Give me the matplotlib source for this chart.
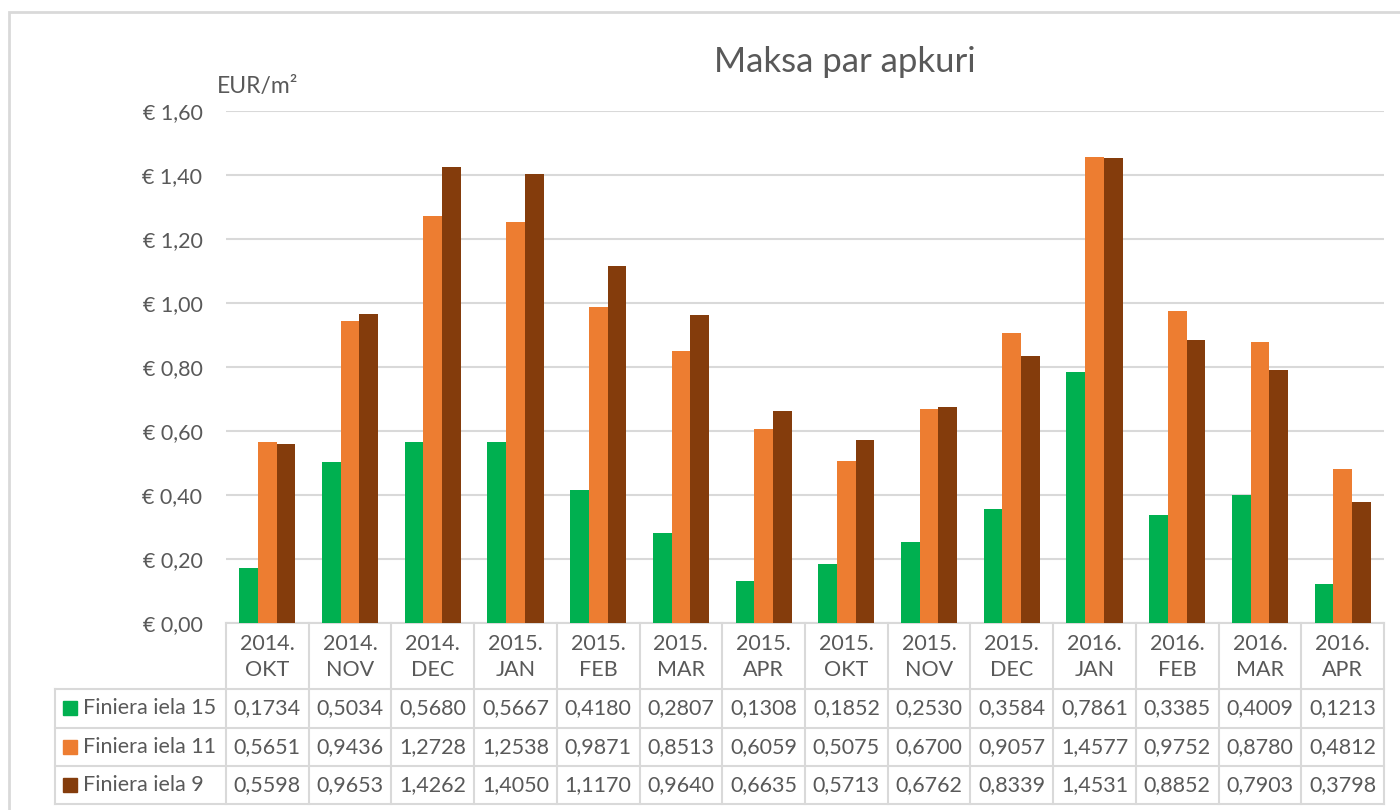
import matplotlib
matplotlib.use("Agg")
import matplotlib.pyplot as plt
import matplotlib.transforms as mtransforms
from matplotlib.patches import Rectangle
import numpy as np

# dati
categories = ["2014.\nOKT", "2014.\nNOV", "2014.\nDEC", "2015.\nJAN", "2015.\nFEB",
              "2015.\nMAR", "2015.\nAPR", "2015.\nOKT", "2015.\nNOV", "2015.\nDEC",
              "2016.\nJAN", "2016.\nFEB", "2016.\nMAR", "2016.\nAPR"]
series_names = ["Finiera iela 15", "Finiera iela 11", "Finiera iela 9"]
iela_15 = [0.1734, 0.5034, 0.5680, 0.5667, 0.4180, 0.2807, 0.1308,
           0.1852, 0.2530, 0.3584, 0.7861, 0.3385, 0.4009, 0.1213]
iela_11 = [0.5651, 0.9436, 1.2728, 1.2538, 0.9871, 0.8513, 0.6059,
           0.5075, 0.6700, 0.9057, 1.4577, 0.9752, 0.8780, 0.4812]
iela_9 = [0.5598, 0.9653, 1.4262, 1.4050, 1.1170, 0.9640, 0.6635,
          0.5713, 0.6762, 0.8339, 1.4531, 0.8852, 0.7903, 0.3798]
colors = ["#00B050", "#ED7D31", "#843C0C"]
yticks = [0.0, 0.2, 0.4, 0.6, 0.8, 1.0, 1.2, 1.4, 1.6]

plt.rcParams['font.family'] = ['Lato', 'DejaVu Sans']
TXT = "#595959"
GRID = "#D9D9D9"
FS = 15.5

W, H = 1400, 810
fig = plt.figure(figsize=(W / 100, H / 100), dpi=100)


def fx(px):
    return px / W


def fy(py):
    # pikseļi no augšas -> figūras koordinātas
    return 1 - py / H


# ārējais rāmis
fig.add_artist(Rectangle((fx(8.5), fy(830)), fx(1420), fy(12.5) - fy(830),
                         transform=fig.transFigure, fill=False,
                         edgecolor=GRID, linewidth=2))

ax_left, ax_right, ax_top, ax_bottom = 226, 1384, 111.3, 623.3
ax = fig.add_axes([fx(ax_left), fy(ax_bottom), fx(ax_right - ax_left),
                   fy(ax_top) - fy(ax_bottom)])

x = np.arange(len(categories))
bw = 0.226
for i, (vals, c) in enumerate(zip([iela_15, iela_11, iela_9], colors)):
    ax.bar(x + (i - 1) * bw, vals, width=bw, color=c, zorder=3)

ax.set_xlim(-0.5, len(categories) - 0.5)
ax.set_ylim(0, 1.6)
ax.set_yticks(yticks)
ax.set_yticklabels(["€ " + f"{v:.2f}".replace(".", ",") for v in yticks])
ax.tick_params(axis="y", length=0, pad=17, labelsize=FS, labelcolor=TXT)
ax.set_xticks([])
ax.grid(axis="y", color=GRID, linewidth=1.5, zorder=0)
for s in ["top", "right", "left"]:
    ax.spines[s].set_visible(False)
ax.spines["bottom"].set_color(GRID)
ax.spines["bottom"].set_linewidth(1.5)

fig.text(fx(845), fy(62), "Maksa par apkuri", ha="center", va="center",
         fontsize=25, color=TXT)
fig.text(fx(217), fy(87), "EUR/m²", ha="left", va="center",
         fontsize=16.5, color=TXT)

# datu tabula
tr = mtransforms.blended_transform_factory(ax.transData, fig.transFigure)
row_lines = [623.3, 688.5, 727.5, 766, 804]
tab_left = 55.3
lw = 1.5

# vertikālās līnijas starp kategorijām
for b in np.arange(-0.5, len(categories)):
    ax.plot([b, b], [fy(row_lines[0]), fy(row_lines[-1])], transform=tr,
            color=GRID, linewidth=lw, clip_on=False)
# horizontālās līnijas
for py in row_lines[1:]:
    fig.add_artist(plt.Line2D([fx(tab_left), fx(ax_right)], [fy(py), fy(py)],
                              transform=fig.transFigure, color=GRID, linewidth=lw))
fig.add_artist(plt.Line2D([fx(tab_left), fx(tab_left)],
                          [fy(row_lines[1]), fy(row_lines[-1])],
                          transform=fig.transFigure, color=GRID, linewidth=lw))

# galvene
for xi, lab in zip(x, categories):
    ax.text(xi, fy((row_lines[0] + row_lines[1]) / 2 + 1.5), lab, transform=tr,
            ha="center", va="center", fontsize=FS, color=TXT,
            linespacing=1.38)

# rindas
for r, (name, vals, c) in enumerate(zip(series_names, [iela_15, iela_11, iela_9], colors)):
    yc = (row_lines[r + 1] + row_lines[r + 2]) / 2
    fig.add_artist(Rectangle((fx(63), fy(yc + 7)), fx(14), fy(yc - 7) - fy(yc + 7),
                             transform=fig.transFigure, color=c))
    fig.text(fx(83), fy(yc), name, ha="left", va="center", fontsize=FS, color=TXT)
    for xi, v in zip(x, vals):
        ax.text(xi, fy(yc), f"{v:.4f}".replace(".", ","), transform=tr,
                ha="center", va="center", fontsize=FS, color=TXT)

fig.savefig("out.png", dpi=100, facecolor="white")
